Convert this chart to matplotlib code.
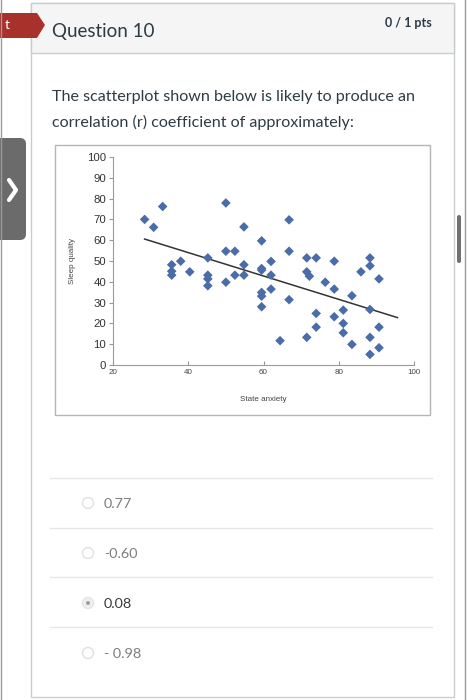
import numpy as np
import matplotlib
matplotlib.use("Agg")
import matplotlib.pyplot as plt
from matplotlib.patches import Rectangle, FancyBboxPatch, Polygon, Circle

# scatter data
anxiety = [28.4, 30.8, 33.2, 35.6, 35.6, 35.6, 38.0, 40.4, 45.2, 45.2,
           45.2, 45.2, 50.0, 50.0, 50.0, 52.4, 52.4, 54.8, 54.8, 54.8,
           59.5, 59.5, 59.5, 59.5, 59.5, 59.5, 62.0, 62.0, 62.0, 64.4,
           66.8, 66.8, 66.8, 71.5, 71.5, 72.2, 71.5, 74.0, 74.0, 74.0,
           76.4, 78.8, 78.8, 78.8, 81.2, 81.2, 81.2, 83.5, 83.5, 85.9,
           88.3, 88.3, 88.3, 88.3, 88.3, 90.7, 90.7, 90.7]
sleep = [70.0, 66.2, 76.2, 48.2, 45.1, 43.2, 49.9, 44.8, 51.5, 43.2,
         41.4, 38.1, 77.9, 54.7, 39.8, 54.7, 43.2, 66.4, 48.2, 43.2,
         59.7, 46.4, 45.6, 34.9, 33.1, 28.0, 49.8, 43.2, 36.5, 11.7,
         69.8, 54.7, 31.4, 51.5, 44.8, 42.7, 13.3, 51.5, 24.8, 18.2,
         39.8, 49.9, 36.5, 23.2, 26.4, 20.0, 15.5, 33.3, 9.9, 44.8,
         51.5, 47.7, 26.7, 13.3, 5.1, 41.4, 18.2, 8.3]
trend_x = [28.4, 95.6]

x_ticks = [20, 40, 60, 80, 100]
y_ticks = [0, 10, 20, 30, 40, 50, 60, 70, 80, 90, 100]

question = "Question 10"
score = "0 / 1 pts"
prompt = ["The scatterplot shown below is likely to produce an",
          "correlation (r) coefficient of approximately:"]
options = ["0.77", "-0.60", "0.08", "- 0.98"]
selected = 2

W, H = 467, 700
fig = plt.figure(figsize=(W / 100, H / 100), dpi=100)

# page layer in pixel coords
pg = fig.add_axes([0, 0, 1, 1])
pg.set_xlim(0, W)
pg.set_ylim(H, 0)
pg.axis("off")

pg.plot([1, 1], [0, H], color="#9a9a9a", lw=1)
pg.plot([465, 465], [0, H], color="#9a9a9a", lw=1)

# card
pg.add_patch(Rectangle((31, 3), 423, 694, facecolor="white", edgecolor="#c7cdd1", lw=1))
pg.add_patch(Rectangle((31, 3), 423, 50, facecolor="#f5f5f5", edgecolor="#c7cdd1", lw=1))

# red flag
pg.add_patch(Polygon([(0, 13), (37, 13), (45, 25), (37, 38), (0, 38)],
                     closed=True, facecolor="#a8312c", edgecolor="none"))
pg.text(5, 25, "t", color="white", fontsize=10, family="Lato", va="center")

pg.text(52, 32, question, fontsize=13.5, family="Lato", color="#2d3b45", va="center")
pg.text(432, 23, score, fontsize=9, family="Lato", fontweight="bold",
        color="#2d3b45", va="center", ha="right")
for i, line in enumerate(prompt):
    pg.text(52, 97 + i * 25, line, fontsize=11.6, family="Lato", color="#2d3b45", va="center")

# side tab + scrollbar
pg.add_patch(FancyBboxPatch((-8, 138), 34, 102, boxstyle="round,pad=0,rounding_size=6",
                            facecolor="#6b6b6b", edgecolor="none"))
pg.plot([9, 16, 9], [180, 190, 200], color="white", lw=3, solid_capstyle="round")
pg.add_patch(FancyBboxPatch((457, 215), 4, 48, boxstyle="round,pad=0,rounding_size=2",
                            facecolor="#707070", edgecolor="none"))

# image frame
pg.add_patch(Rectangle((55, 145), 375, 270, facecolor="white", edgecolor="#b5b5b5", lw=1))

# answer options
for yy in [478, 528, 577, 627]:
    pg.plot([50, 432], [yy, yy], color="#e6e6e6", lw=1)
for i, opt in enumerate(options):
    yy = 503 + i * 50
    if i == selected:
        pg.add_patch(Circle((88, yy), 5.5, facecolor="#efefef", edgecolor="#e4e4e4", lw=1))
        pg.add_patch(Circle((88, yy), 2, facecolor="#a0a0a0", edgecolor="none"))
        col = "#3a3a3a"
    else:
        pg.add_patch(Circle((88, yy), 5.5, facecolor="white", edgecolor="#e0e0e0", lw=1))
        col = "#7d7d7d"
    pg.text(104, yy + 1, opt, fontsize=10.4, family="Lato", color=col, va="center")

# scatter chart
ax = fig.add_axes([113 / W, 1 - 365 / H, 301 / W, 208 / H])
ax.patch.set_alpha(0)
ax.scatter(anxiety, sleep, marker="D", s=24, color="#4a6ca8", edgecolors="none", zorder=3)
k, b = np.polyfit(anxiety, sleep, 1)
tx = np.array(trend_x)
ax.plot(tx, k * tx + b, color="#333333", lw=1.1, zorder=2)

ax.set_xlim(20, 100)
ax.set_ylim(0, 100)
ax.set_xticks(x_ticks)
ax.set_yticks(y_ticks)
ax.set_xticklabels([str(v) for v in x_ticks], fontsize=5.8, family="Liberation Sans", color="#444")
ax.set_yticklabels([str(v) for v in y_ticks], fontsize=8.2, family="Liberation Sans", color="#333")
ax.tick_params(axis="y", length=3, width=0.8, color="#999", pad=2)
ax.tick_params(axis="x", length=3, width=0.8, color="#999", direction="in", pad=3)
for s in ["top", "right"]:
    ax.spines[s].set_visible(False)
for s in ["left", "bottom"]:
    ax.spines[s].set_color("#9a9a9a")
    ax.spines[s].set_linewidth(0.8)
ax.set_xlabel("State anxiety", fontsize=5.8, family="Liberation Sans", color="#444", labelpad=14)
ax.set_ylabel("Sleep quality", fontsize=5.8, family="Liberation Sans", color="#444", labelpad=8)

fig.savefig("out.png", dpi=100)
